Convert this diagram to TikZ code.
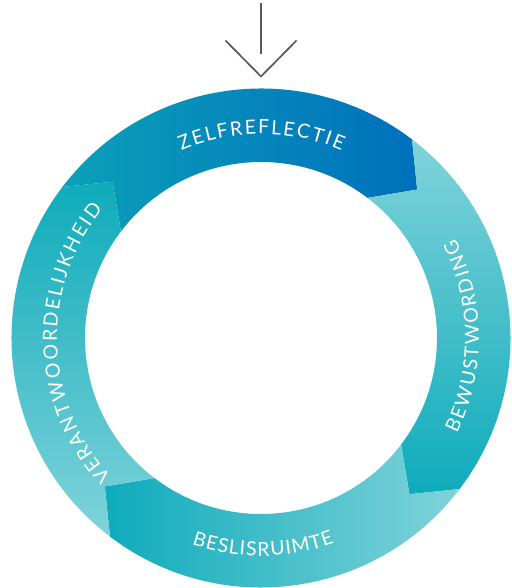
\documentclass[tikz,border=0pt]{standalone}
\usepackage{fontspec}
\setmainfont{Lato}
\definecolor{topL}{RGB}{10,160,185}
\definecolor{topR}{RGB}{0,112,188}
\definecolor{tealD}{RGB}{14,171,187}
\definecolor{tealL}{RGB}{128,211,218}
\definecolor{arrowgray}{RGB}{90,90,90}
\newcommand{\Ro}{249.5}
\newcommand{\Ri}{176}
\newcommand{\Rt}{215.5}
\newcommand{\lbS}{1.95}
\newcommand{\lbEm}{19.5}
\newcommand{\ringseg}[3]{%
  \path[#3] (#1:\Ro pt) arc[start angle=#1, end angle=#2, radius=\Ro pt]
    -- ({#2-9.2}:\Rt pt) -- (#2:\Ri pt)
    arc[start angle=#2, end angle=#1, radius=\Ri pt]
    -- ({#1-9.2}:\Rt pt) -- cycle;}
% #1 name, #2 letter/width list, #3 start angle, #4 end angle, #5 baseline radius, #6 direction (1 = ccw, tops in; -1 = cw, tops out)
\newcommand{\arclabel}[6]{%
  \gdef\lbTot{0}\gdef\lbCnt{0}%
  \foreach \ch/\w in {#2}{%
    \pgfmathsetmacro\lbT{\lbTot+\w*\lbEm}\global\let\lbTot\lbT
    \pgfmathsetmacro\lbC{\lbCnt+1}\global\let\lbCnt\lbC}%
  \pgfmathsetmacro\lbArc{abs(#4-#3)*pi/180*#5}%
  \pgfmathsetmacro\lbGap{(\lbArc-\lbTot)/(\lbCnt-1)}%
  \gdef\lbPos{0}%
  \foreach \ch/\w [count=\i] in {#2}{%
    \pgfmathsetmacro\lbW{\w*\lbEm}%
    \pgfmathsetmacro\lbMid{\lbPos+\lbW/2}%
    \pgfmathsetmacro\lbAng{#3+(#6)*\lbMid/#5*180/pi}%
    \pgfmathsetmacro\lbRot{\lbAng+(#6)*90}%
    \node[letter, rotate=\lbRot] (#1\i) at (\lbAng:#5pt) {\ch};
    \pgfmathsetmacro\lbP{\lbPos+\lbW+\lbGap}\global\let\lbPos\lbP}%
}
\tikzset{
  letter/.style={anchor=base, inner sep=0pt, outer sep=0pt, text=white,
    font=\normalfont, scale=\lbS},
  pointer/.style={draw=arrowgray, line width=1.7pt}
}
\begin{document}
\begin{tikzpicture}[x=1pt,y=1pt]
\fill[white] (-261,-250) rectangle (250,338);
\useasboundingbox (-261,-250) rectangle (250,338);
% ring segments
\ringseg{142.75}{52.75}{left color=topL, right color=topR}
\ringseg{52.75}{-37.25}{top color=tealL, bottom color=tealD}
\ringseg{-37.25}{-127.25}{left color=tealD, right color=tealL}
\ringseg{232.75}{142.75}{bottom color=tealL, top color=tealD}
% labels
\arclabel{zf}{Z/.61,E/.56,L/.49,F/.54,R/.625,E/.56,F/.54,L/.49,E/.56,C/.665,T/.58,I/.29,E/.56}{113}{66.8}{204}{-1}
\arclabel{bw}{B/.645,E/.56,W/1.03,U/.735,S/.54,T/.58,W/1.03,O/.81,R/.625,D/.75,I/.29,N/.765,G/.725}{-26}{27}{218}{1}
\arclabel{bs}{B/.645,E/.56,S/.54,L/.49,I/.29,S/.54,R/.625,U/.735,I/.29,M/.91,T/.58,E/.56}{251.5}{289.6}{218}{1}
\arclabel{vw}{V/.685,E/.56,R/.625,A/.685,N/.765,T/.58,W/1.03,O/.81,O/.81,R/.625,D/.75,E/.56,L/.49,I/.29,J/.40,K/.66,H/.765,E/.56,I/.29,D/.75}{222.9}{140.8}{204}{-1}
% entry arrow
\coordinate (stemTop) at (0,334.7);
\coordinate (stemEnd) at (0,284);
\coordinate (chevL) at (-35.5,297.5);
\coordinate (chevTip) at (0,261.5);
\coordinate (chevR) at (35.5,297.5);
\draw[pointer] (stemTop) -- (stemEnd);
\draw[pointer] (chevL) -- (chevTip) -- (chevR);
\end{tikzpicture}
\end{document}
